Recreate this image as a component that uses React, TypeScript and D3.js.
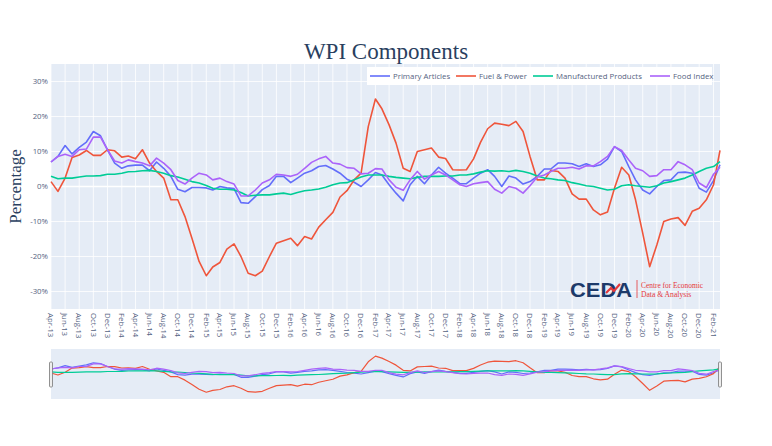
import React from "react";
import * as d3 from "d3";

const startMonth = "2013-04";
const endMonth = "2021-03";

const primaryArticles = [
  7.0, 8.6, 11.7, 9.3, 11.2, 12.7, 15.7, 14.5, 10.5, 6.7,
  5.2, 5.9, 6.1, 6.1, 4.5, 7.0, 5.2, 2.9, -0.8, -1.5,
  -0.3, -0.3, -0.4, -1.0, 0.0, -0.4, -0.6, -4.6, -4.8, -2.9,
  -0.9, 0.3, 2.9, 2.9, 1.1, 2.4, 3.8, 4.5, 5.7, 6.0,
  5.0, 3.8, 2.1, 1.2, 0.0, 1.9, 4.0, 3.3, 0.5, -1.9,
  -4.1, 0.5, 2.9, 0.8, 3.3, 5.5, 3.8, 2.4, 0.8, 0.8,
  2.4, 3.8, 4.8, 2.9, 0.0, 3.0, 2.4, 0.7, 1.4, 2.9,
  5.0, 5.0, 6.7, 6.7, 6.5, 5.7, 6.5, 5.7, 6.2, 7.8,
  11.4, 10.0, 5.7, 1.9, -1.0, -2.1, 0.0, 1.7, 1.9, 4.0,
  4.1, 3.8, -0.5, -1.6, 1.7, 6.2,
];

const fuelPower = [
  1.4, -1.4, 2.4, 8.3, 9.0, 10.3, 8.9, 8.9, 10.5, 10.2,
  8.4, 8.7, 7.9, 10.5, 6.7, 4.3, 2.4, -3.8, -3.8, -8.6,
  -14.8, -21.4, -25.5, -23.0, -21.7, -17.9, -16.4, -20.0, -24.8, -25.5,
  -24.2, -20.0, -16.2, -15.5, -14.8, -16.9, -14.3, -15.0, -11.6, -9.5,
  -7.4, -3.0, -1.2, 1.9, 3.8, 17.1, 25.0, 22.2, 17.6, 12.4,
  5.2, 4.3, 10.0, 10.5, 11.0, 8.4, 8.0, 4.8, 4.7, 4.8,
  7.9, 12.6, 16.5, 18.1, 17.8, 17.4, 18.6, 15.7, 8.6, 1.9,
  1.9, 4.6, 4.3, 2.4, -2.1, -3.6, -3.6, -6.7, -8.1, -7.3,
  -0.5, 5.5, 3.3, -3.8, -13.3, -22.9, -16.7, -10.0, -9.3, -8.9,
  -11.1, -7.1, -6.2, -3.8, 0.5, 10.3,
];

const manufacturedProducts = [
  2.9, 2.2, 2.4, 2.4, 2.7, 3.0, 3.0, 3.1, 3.5, 3.5,
  3.8, 4.2, 4.3, 4.5, 4.6, 4.3, 3.8, 3.1, 2.7, 2.1,
  1.4, 1.0, 0.3, -0.5, -0.8, -0.8, -1.0, -1.7, -2.7, -2.5,
  -2.4, -2.4, -2.1, -1.9, -2.3, -1.7, -1.2, -1.0, -0.7, -0.2,
  0.5, 1.0, 1.1, 1.9, 2.7, 3.3, 3.3, 3.3, 2.9, 2.6,
  2.4, 2.2, 2.6, 2.9, 2.9, 2.9, 3.0, 3.0, 3.3, 3.3,
  3.6, 4.1, 4.5, 4.4, 4.5, 4.3, 4.6, 4.3, 3.8, 3.0,
  2.4, 2.2, 1.9, 1.7, 1.1, 0.7, 0.2, 0.0, -0.5, -1.0,
  -0.8, 0.2, 0.5, 0.2, 0.0, -0.2, 0.2, 1.0, 1.4, 1.9,
  2.4, 3.3, 4.3, 5.2, 5.7, 7.1,
];

const foodIndex = [
  7.0, 8.6, 9.2, 8.6, 10.5, 10.7, 14.1, 14.1, 10.5, 7.3,
  6.7, 7.6, 7.1, 6.7, 5.9, 8.1, 6.7, 4.8, 1.7, 0.7,
  2.4, 3.8, 3.3, 1.9, 2.4, 1.4, 0.7, -2.7, -2.7, -1.0,
  1.0, 1.9, 3.5, 3.3, 2.9, 3.5, 5.2, 6.9, 7.9, 8.6,
  6.7, 6.4, 5.4, 5.2, 3.6, 3.8, 5.1, 5.0, 1.9, -0.2,
  -1.1, 1.9, 4.3, 2.1, 3.3, 4.3, 3.3, 1.9, 0.5, 0.0,
  0.8, 1.1, 1.4, -0.8, -1.9, 0.0, -0.5, -1.9, 0.2, 2.7,
  3.3, 4.3, 5.2, 5.2, 5.5, 5.0, 5.9, 5.9, 7.1, 8.6,
  11.4, 10.3, 7.6, 5.2, 4.5, 2.9, 3.1, 4.8, 4.8, 7.1,
  6.2, 4.8, 1.0, -0.3, 3.5, 5.5,
];

const seriesNames = ["Primary Articles", "Fuel & Power", "Manufactured Products", "Food Index"];
const seriesColors = ["#636efa", "#EF553B", "#00cc96", "#ab63fa"];
const yTicks = [-30, -20, -10, 0, 10, 20, 30];

const W = 772;
const H = 446;
const plot = { left: 51, right: 720, top: 64, bottom: 309 };
const slider = { top: 349, bottom: 399 };
const legendX = [370, 456, 533, 650];
const FONT = "'Open Sans', sans-serif";
const TEXT = "#2a3f5f";
const TICK = "#55637f";

export default function App() {
  const parse = d3.timeParse("%Y-%m");
  const start = parse(startMonth) as Date;
  const end = parse(endMonth) as Date;
  const dates = d3.timeMonth.range(start, d3.timeMonth.offset(end, 1));
  const allSeries = [primaryArticles, fuelPower, manufacturedProducts, foodIndex];

  const x = d3.scaleTime().domain([start, end]).range([plot.left, plot.right]);
  const y = d3.scaleLinear().domain([-35, 35]).range([plot.bottom, plot.top]);
  const ys = d3.scaleLinear().domain([-35, 35]).range([slider.bottom, slider.top]);

  const xTicks = d3.timeMonth.range(start, d3.timeMonth.offset(end, 1)).filter((_, i) => i % 2 === 0);
  const fmt = d3.timeFormat("%b-%y");

  const mainLine = (vals: number[]) =>
    d3.line<number>().x((_, i) => x(dates[i])).y((v) => y(v))(vals) || "";
  const miniLine = (vals: number[]) =>
    d3.line<number>().x((_, i) => x(dates[i])).y((v) => ys(v))(vals) || "";

  return (
    <div style={{ position: "absolute", left: 0, top: 0, width: W, height: H, background: "#fff" }}>
      <svg width={W} height={H} style={{ display: "block" }}>
        <rect x={0} y={0} width={W} height={H} fill="#fff" />
        <rect x={plot.left} y={plot.top} width={plot.right - plot.left} height={plot.bottom - plot.top} fill="#e5ecf6" />
        {xTicks.map((d, i) => (
          <line key={"vg" + i} x1={x(d)} x2={x(d)} y1={plot.top} y2={plot.bottom} stroke="#fff" strokeWidth={0.8} />
        ))}
        {yTicks.map((t) => (
          <line key={"hg" + t} x1={plot.left} x2={plot.right} y1={y(t)} y2={y(t)} stroke="#fff" strokeWidth={t === 0 ? 1.6 : 0.8} />
        ))}
        {yTicks.map((t) => (
          <text key={"yt" + t} x={plot.left - 3} y={y(t)} dy="0.35em" textAnchor="end" fontFamily={FONT} fontSize={7.8} fill={TICK}>
            {t + "%"}
          </text>
        ))}
        {xTicks.map((d, i) => (
          <text
            key={"xt" + i}
            transform={`translate(${x(d)},${plot.bottom + 4}) rotate(90)`}
            dy="0.35em"
            textAnchor="start"
            fontFamily={FONT}
            fontSize={7.8}
            fill={TICK}
          >
            {fmt(d)}
          </text>
        ))}
        {allSeries.map((vals, k) => (
          <path key={"s" + k} d={mainLine(vals)} fill="none" stroke={seriesColors[k]} strokeWidth={1.6} strokeLinejoin="round" />
        ))}
        <text x={386} y={59} textAnchor="middle" fontFamily="'Liberation Serif', 'Times New Roman', serif" fontSize={23} fill={TEXT}>
          WPI Components
        </text>
        <text
          transform={`translate(21,${(plot.top + plot.bottom) / 2}) rotate(-90)`}
          textAnchor="middle"
          fontFamily="'Liberation Serif', 'Times New Roman', serif"
          fontSize={17}
          fill={TEXT}
        >
          Percentage
        </text>
        <rect x={367} y={67} width={345} height={18} fill="#fff" />
        {seriesNames.map((n, k) => (
          <g key={"lg" + k}>
            <line x1={legendX[k]} x2={legendX[k] + 20} y1={76} y2={76} stroke={seriesColors[k]} strokeWidth={1.6} />
            <text x={legendX[k] + 23} y={76} dy="0.35em" fontFamily={FONT} fontSize={7.8} fill={TICK}>
              {n}
            </text>
          </g>
        ))}
        <g>
          <text x={570} y={297} fontFamily="'Liberation Sans', Arial, sans-serif" fontWeight={900} fontSize={21} fill="#1d3a6a" textLength={62} lengthAdjust="spacingAndGlyphs">
            CEDA
          </text>
          <polyline points="606,293 611,288 614,291 620,284" fill="none" stroke="#e5383b" strokeWidth={2.2} />
          <line x1={637} x2={637} y1={280} y2={298} stroke="#e5383b" strokeWidth={0.8} />
          <text x={641} y={287.5} fontFamily="'Liberation Serif', serif" fontSize={7.6} fill="#e5383b" textLength={62} lengthAdjust="spacingAndGlyphs">
            Centre for Economic
          </text>
          <text x={641} y={296.5} fontFamily="'Liberation Serif', serif" fontSize={7.6} fill="#e5383b">
            Data &amp; Analysis
          </text>
        </g>
        <rect x={plot.left} y={slider.top} width={plot.right - plot.left} height={slider.bottom - slider.top} fill="#e5ecf6" />
        {allSeries.map((vals, k) => (
          <path key={"m" + k} d={miniLine(vals)} fill="none" stroke={seriesColors[k]} strokeWidth={1.2} strokeLinejoin="round" />
        ))}
        <rect x={49.5} y={362} width={3} height={25} rx={1} fill="#eee" stroke="#777" strokeWidth={0.8} />
        <rect x={plot.right - 1.5} y={362} width={3} height={25} rx={1} fill="#eee" stroke="#777" strokeWidth={0.8} />
      </svg>
    </div>
  );
}
